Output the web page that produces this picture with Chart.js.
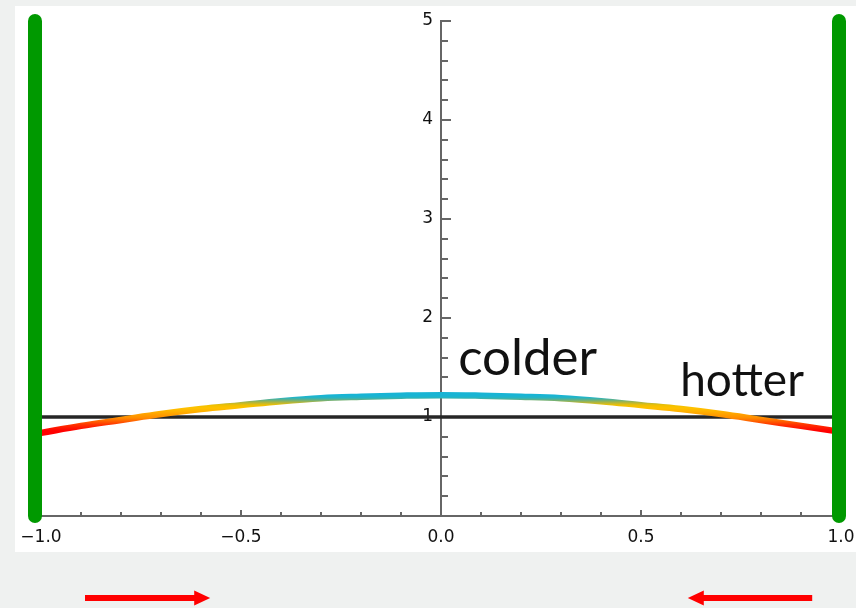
<!DOCTYPE html>
<html>
<head>
<meta charset="utf-8">
<script src="https://cdn.jsdelivr.net/npm/chart.js@4.4.1/dist/chart.umd.min.js"></script>
<style>
  html, body { margin: 0; padding: 0; background: #eff1f0; }
  #wrap { position: relative; width: 856px; height: 608px; overflow: hidden; }
  #panel { position: absolute; left: 15px; top: 6px; width: 841px; height: 546px; background: #ffffff; }
  #c { position: absolute; left: 0; top: 0; }
</style>
</head>
<body>
<div id="wrap">
  <div id="panel"></div>
  <canvas id="c" width="856" height="608"></canvas>
</div>
<script>
// Temperature profile across the bar (x from -1 to 1)
const profileX = [-1, -0.9, -0.8, -0.7, -0.6, -0.5, -0.4, -0.3, -0.2, -0.1, 0,
                  0.1, 0.2, 0.3, 0.4, 0.5, 0.6, 0.7, 0.8, 0.9, 1];
const profileY = [0.84, 0.91, 0.97, 1.03, 1.08, 1.12, 1.16, 1.19, 1.205, 1.215, 1.22,
                  1.215, 1.205, 1.19, 1.16, 1.12, 1.08, 1.03, 0.97, 0.91, 0.85];

// Reference level
const refX = [-1, 1];
const refY = [1, 1];

// Walls
const wallLeftX = -1.015;
const wallRightX = 0.995;
const wallY = [0, 5];

// Axes
const xTickValues = [-1, -0.5, 0, 0.5, 1];
const yTickValues = [0, 1, 2, 3, 4, 5];
const xMinorStep = 0.1;
const yMinorStep = 0.2;

// Annotations
const labelTexts = ['colder', 'hotter'];
const labelX = [0.043, 0.598];
const labelY = [1.42, 1.21];
const labelSizes = [51, 46];

// Arrows below the plot: [tail x, head x]
const arrowLeft = [-0.89, -0.577];
const arrowRight = [0.928, 0.617];

// Colour ramp along temperature (value, colour)
const rampValues = [0.86, 0.92, 0.99, 1.05, 1.09, 1.12, 1.15, 1.175, 1.195, 1.215];
const rampColors = ['#ff0000', '#ff3000', '#ff8c00', '#ffae00', '#ffc200', '#f0c000', '#a8b444', '#5cb08c', '#26b4c2', '#18b4d4'];

const pts = (xs, ys) => xs.map((x, i) => ({x, y: ys[i]}));

function rampGradient(context) {
  const chart = context.chart;
  const area = chart.chartArea;
  if (!area) return '#ff8a00';
  const ys = chart.scales.y;
  const y0 = ys.getPixelForValue(rampValues[0]);
  const y1 = ys.getPixelForValue(rampValues[rampValues.length - 1]);
  const g = chart.ctx.createLinearGradient(0, y0, 0, y1);
  const span = rampValues[rampValues.length - 1] - rampValues[0];
  rampValues.forEach((v, i) => g.addColorStop((v - rampValues[0]) / span, rampColors[i]));
  return g;
}

// Inward tick marks (major + minor) on both axes, text labels and arrows
const tickMarks = {
  id: 'tickMarks',
  beforeDatasetsDraw(chart) {
    const {ctx, scales: {x, y}} = chart;
    const ax = x.getPixelForValue(0);
    const ay = y.getPixelForValue(0);
    ctx.save();
    ctx.strokeStyle = '#666666';
    ctx.lineWidth = 2;
    ctx.beginPath();
    for (let k = 1; k * yMinorStep <= 5 + 1e-9; k++) {
      const v = k * yMinorStep;
      const major = Math.abs(v - Math.round(v)) < 1e-6;
      const py = Math.round(y.getPixelForValue(v));
      ctx.moveTo(ax, py);
      ctx.lineTo(ax + (major ? 10 : 7), py);
    }
    for (let k = -10; k <= 10; k++) {
      const v = k * xMinorStep;
      if (k === 0) continue;
      const major = Math.abs(v * 2 - Math.round(v * 2)) < 1e-6;
      const px = Math.round(x.getPixelForValue(v));
      ctx.moveTo(px, ay);
      ctx.lineTo(px, ay - (major ? 6 : 4));
    }
    ctx.stroke();
    ctx.restore();
  },
  afterDatasetsDraw(chart) {
    const {ctx, scales: {x, y}} = chart;
    ctx.save();
    ctx.fillStyle = '#111111';
    ctx.textBaseline = 'alphabetic';
    ctx.textAlign = 'left';
    labelTexts.forEach((t, i) => {
      ctx.font = `400 ${labelSizes[i]}px Lato`;
      ctx.fillText(t, x.getPixelForValue(labelX[i]), y.getPixelForValue(labelY[i]));
    });
    ctx.restore();
  },
  afterDraw(chart) {
    const {ctx, scales: {x}, chartArea} = chart;
    const py = chartArea.bottom + 82;
    ctx.save();
    ctx.fillStyle = '#ff0000';
    [arrowLeft, arrowRight].forEach(([tail, head]) => {
      const x0 = x.getPixelForValue(tail);
      const x1 = x.getPixelForValue(head);
      const dir = Math.sign(x1 - x0);
      const hb = x1 - dir * 16;
      ctx.beginPath();
      ctx.moveTo(x0, py - 3);
      ctx.lineTo(hb, py - 3);
      ctx.lineTo(hb, py - 7.5);
      ctx.lineTo(x1, py);
      ctx.lineTo(hb, py + 7.5);
      ctx.lineTo(hb, py + 3);
      ctx.lineTo(x0, py + 3);
      ctx.closePath();
      ctx.fill();
    });
    ctx.restore();
  }
};

const fmt = v => (v < 0 ? '\u2212' : '') + Math.abs(v).toFixed(1);

new Chart(document.getElementById('c'), {
  type: 'line',
  data: {
    datasets: [
      {
        data: pts([wallLeftX, wallLeftX], wallY),
        borderColor: '#009900', borderWidth: 14, borderCapStyle: 'round',
        pointRadius: 0, clip: false, order: 0
      },
      {
        data: pts([wallRightX, wallRightX], wallY),
        borderColor: '#009900', borderWidth: 14, borderCapStyle: 'round',
        pointRadius: 0, clip: false, order: 0
      },
      {
        data: pts(profileX, profileY),
        borderColor: rampGradient, borderWidth: 6.5, tension: 0.4,
        pointRadius: 0, clip: false, order: 1
      },
      {
        data: pts(refX, refY),
        borderColor: '#262626', borderWidth: 3.5,
        pointRadius: 0, clip: false, order: 2
      }
    ]
  },
  options: {
    responsive: false,
    animation: false,
    devicePixelRatio: 1,
    layout: { padding: { left: 41, right: 15, top: 21, bottom: 0 } },
    plugins: { legend: { display: false }, tooltip: { enabled: false } },
    scales: {
      x: {
        type: 'linear', position: 'bottom', min: -1, max: 1,
        afterFit: s => { s.height = 92; },
        afterBuildTicks: s => { s.ticks = xTickValues.map(v => ({value: v})); },
        grid: { drawOnChartArea: false, drawTicks: true, tickLength: 11, tickColor: 'rgba(0,0,0,0)' },
        border: { display: true, color: '#666666', width: 2 },
        ticks: {
          padding: 0, color: '#111111', maxRotation: 0, autoSkip: false,
          font: { family: 'DejaVu Sans', size: 17 },
          callback: v => fmt(v)
        }
      },
      y: {
        type: 'linear', position: 'center', min: 0, max: 5,
        afterBuildTicks: s => { s.ticks = yTickValues.map(v => ({value: v})); },
        grid: { drawOnChartArea: false, drawTicks: false },
        border: { display: true, color: '#666666', width: 2 },
        ticks: {
          padding: 8, color: '#111111', autoSkip: false,
          font: { family: 'DejaVu Sans', size: 17 },
          callback: v => (v === 0 ? '' : String(v))
        }
      }
    }
  },
  plugins: [tickMarks]
});
</script>
</body>
</html>
